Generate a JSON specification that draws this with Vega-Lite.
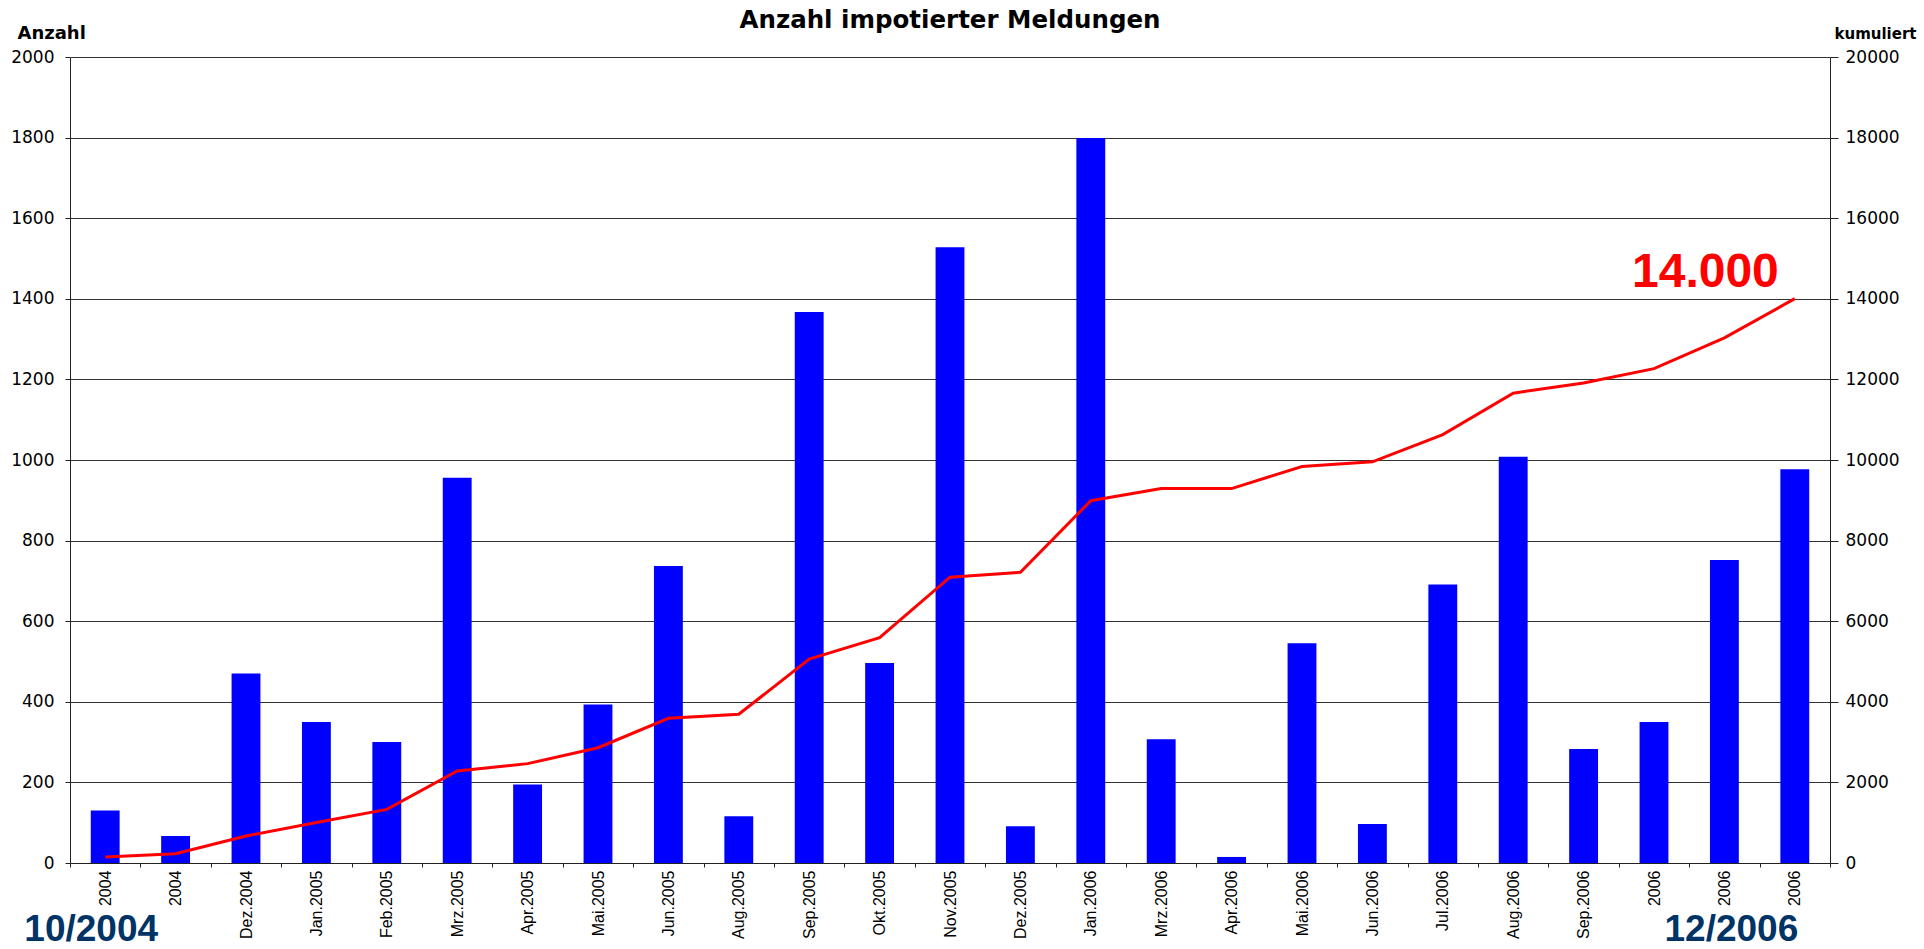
{
  "$schema": "https://vega.github.io/schema/vega-lite/v6.json",
  "width": 1760,
  "height": 806,
  "autosize": {"type": "none"},
  "padding": {"left": 70, "top": 57, "right": 94, "bottom": 86},
  "background": "white",
  "title": {
    "text": "Anzahl impotierter Meldungen",
    "font": "DejaVu Sans",
    "fontWeight": "bold",
    "fontSize": 24.5,
    "color": "black",
    "anchor": "middle",
    "offset": 0,
    "dy": 9
  },
  "config": {
    "view": {"stroke": null},
    "axis": {"domainColor": "#222", "tickColor": "#222", "gridColor": "#333", "labelColor": "black", "titleColor": "black"},
    "axisX": {
      "labelAngle": -90,
      "labelFont": "Liberation Sans",
      "labelFontSize": 16,
      "labelPadding": 3,
      "tickSize": 4,
      "tickBand": "extent",
      "grid": false
    },
    "axisY": {
      "labelFont": "DejaVu Sans",
      "labelFontSize": 17
    }
  },
  "data": {
    "values": [
      {"monat": "Okt.2004", "anzahl": 130, "kumuliert": 150},
      {"monat": "Nov.2004", "anzahl": 67, "kumuliert": 230},
      {"monat": "Dez.2004", "anzahl": 470, "kumuliert": 670},
      {"monat": "Jan.2005", "anzahl": 350, "kumuliert": 1005},
      {"monat": "Feb.2005", "anzahl": 300, "kumuliert": 1330},
      {"monat": "Mrz.2005", "anzahl": 956, "kumuliert": 2283},
      {"monat": "Apr.2005", "anzahl": 195, "kumuliert": 2466},
      {"monat": "Mai.2005", "anzahl": 393, "kumuliert": 2861},
      {"monat": "Jun.2005", "anzahl": 737, "kumuliert": 3592},
      {"monat": "Aug.2005", "anzahl": 116, "kumuliert": 3690},
      {"monat": "Sep.2005", "anzahl": 1367, "kumuliert": 5060},
      {"monat": "Okt.2005", "anzahl": 496, "kumuliert": 5590},
      {"monat": "Nov.2005", "anzahl": 1528, "kumuliert": 7093},
      {"monat": "Dez.2005", "anzahl": 91, "kumuliert": 7214},
      {"monat": "Jan.2006", "anzahl": 1799, "kumuliert": 8990},
      {"monat": "Mrz.2006", "anzahl": 307, "kumuliert": 9290},
      {"monat": "Apr.2006", "anzahl": 15, "kumuliert": 9290},
      {"monat": "Mai.2006", "anzahl": 545, "kumuliert": 9840},
      {"monat": "Jun.2006", "anzahl": 97, "kumuliert": 9954},
      {"monat": "Jul.2006", "anzahl": 691, "kumuliert": 10630},
      {"monat": "Aug.2006", "anzahl": 1008, "kumuliert": 11659},
      {"monat": "Sep.2006", "anzahl": 283, "kumuliert": 11910},
      {"monat": "Okt.2006", "anzahl": 350, "kumuliert": 12268},
      {"monat": "Nov.2006", "anzahl": 752, "kumuliert": 13029},
      {"monat": "Dez.2006", "anzahl": 977, "kumuliert": 14003}
    ]
  },
  "encoding": {
    "x": {
      "field": "monat",
      "type": "nominal",
      "sort": null,
      "scale": {"paddingInner": 0, "paddingOuter": 0},
      "axis": {
        "title": null,
        "labelAngle": -90,
        "labelFont": "Liberation Sans",
        "labelFontSize": 16,
        "labelExpr": "(datum.value == 'Okt.2004' || datum.value == 'Nov.2004') ? '2004' : ((datum.value == 'Okt.2006' || datum.value == 'Nov.2006' || datum.value == 'Dez.2006') ? '2006' : datum.value)"
      }
    }
  },
  "layer": [
    {
      "layer": [
        {
          "mark": {"type": "bar", "color": "#0000FF", "width": {"band": 0.41}},
          "encoding": {
            "y": {
              "field": "anzahl",
              "type": "quantitative",
              "scale": {"domain": [0, 2000], "nice": false},
              "axis": {
                "title": "Anzahl",
                "titleAngle": 0,
                "titleAlign": "left",
                "titleBaseline": "alphabetic",
                "titleX": -53,
                "titleY": -19,
                "titleFont": "DejaVu Sans",
                "titleFontWeight": "bold",
                "titleFontSize": 18,
                "values": [0, 200, 400, 600, 800, 1000, 1200, 1400, 1600, 1800, 2000],
                "format": "d",
                "labelFont": "DejaVu Sans",
                "labelFontSize": 17,
                "tickSize": 5,
                "labelPadding": 11,
                "grid": true,
                "gridWidth": 1
              }
            }
          }
        },
        {
          "data": {"values": [{"monat": "Okt.2004", "txt": "10/2004"}]},
          "mark": {"type": "text", "font": "Liberation Sans", "fontWeight": "bold", "fontSize": 37, "color": "#003366", "baseline": "alphabetic", "align": "center", "dx": -14, "dy": 78},
          "encoding": {
            "y": {"datum": 0, "type": "quantitative"},
            "text": {"field": "txt"}
          }
        },
        {
          "data": {"values": [{"monat": "Nov.2006", "txt": "12/2006"}]},
          "mark": {"type": "text", "font": "Liberation Sans", "fontWeight": "bold", "fontSize": 37, "color": "#003366", "baseline": "alphabetic", "align": "center", "dx": 7, "dy": 78},
          "encoding": {
            "y": {"datum": 0, "type": "quantitative"},
            "text": {"field": "txt"}
          }
        }
      ]
    },
    {
      "layer": [
        {
          "mark": {"type": "line", "color": "#FF0000", "strokeWidth": 3},
          "encoding": {
            "y": {
              "field": "kumuliert",
              "type": "quantitative",
              "scale": {"domain": [0, 20000], "nice": false},
              "axis": {
                "orient": "right",
                "title": "kumuliert",
                "titleAngle": 0,
                "titleAlign": "right",
                "titleBaseline": "alphabetic",
                "titleX": 86,
                "titleY": -19,
                "titleFont": "DejaVu Sans",
                "titleFontWeight": "bold",
                "titleFontSize": 15,
                "values": [0, 2000, 4000, 6000, 8000, 10000, 12000, 14000, 16000, 18000, 20000],
                "format": "d",
                "labelFont": "DejaVu Sans",
                "labelFontSize": 17,
                "tickSize": 8,
                "labelPadding": 7,
                "grid": false
              }
            }
          }
        },
        {
          "data": {"values": [{"monat": "Nov.2006", "kumuliert": 14000, "txt": "14.000"}]},
          "mark": {"type": "text", "font": "Liberation Sans", "fontWeight": "bold", "fontSize": 48, "color": "#FF0000", "baseline": "alphabetic", "align": "center", "dx": -19, "dy": -12},
          "encoding": {
            "y": {"field": "kumuliert", "type": "quantitative"},
            "text": {"field": "txt"}
          }
        }
      ]
    }
  ],
  "resolve": {"scale": {"y": "independent"}}
}
